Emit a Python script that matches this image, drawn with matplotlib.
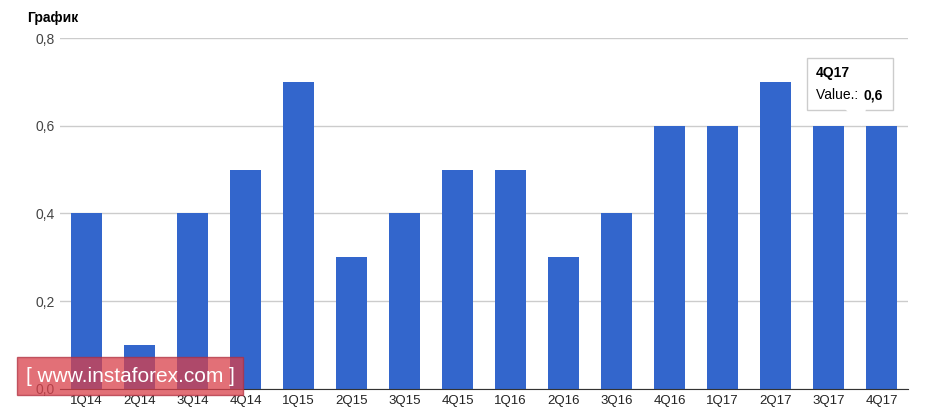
import matplotlib.pyplot as plt
from matplotlib.patches import FancyBboxPatch, Polygon

quarters = ["1Q14", "2Q14", "3Q14", "4Q14", "1Q15", "2Q15", "3Q15", "4Q15",
            "1Q16", "2Q16", "3Q16", "4Q16", "1Q17", "2Q17", "3Q17", "4Q17"]
values = [0.4, 0.1, 0.4, 0.5, 0.7, 0.3, 0.4, 0.5,
          0.5, 0.3, 0.4, 0.6, 0.6, 0.7, 0.6, 0.6]
yticks = [0.0, 0.2, 0.4, 0.6, 0.8]
ytick_labels = ["0,0", "0,2", "0,4", "0,6", "0,8"]

plt.rcParams['font.family'] = ['Liberation Sans', 'DejaVu Sans']
fig = plt.figure(figsize=(9.38, 4.09), dpi=100)
ax = fig.add_axes([0.064, 0.049, 0.904, 0.858])

x = list(range(len(quarters)))
ax.bar(x, values, width=0.6, color='#3366cc', zorder=2)
ax.set_xlim(-0.5, len(quarters) - 0.5)
ax.set_ylim(0, 0.8)
ax.set_yticks(yticks)
ax.set_yticklabels(ytick_labels, color='#444444', fontsize=10)
ax.set_xticks(x)
ax.set_xticklabels(quarters, color='#222222', fontsize=9.5)
ax.tick_params(length=0, pad=4)
ax.grid(axis='y', color='#cccccc', linewidth=1, zorder=0)
for s in ['top', 'right', 'left']:
    ax.spines[s].set_visible(False)
ax.spines['bottom'].set_color('#333333')

fig.text(0.029, 0.955, "График", fontsize=10, fontweight='bold', va='center')

# tooltip
fig.patches.append(FancyBboxPatch((807 / 938, 1 - 110 / 409), 86 / 938, 52 / 409,
                                  boxstyle='square,pad=0', transform=fig.transFigure,
                                  facecolor='white', edgecolor='#cccccc', zorder=5))
fig.patches.append(Polygon([(845 / 938, 1 - 109 / 409), (866 / 938, 1 - 109 / 409),
                            (862 / 938, 1 - 126 / 409)], closed=True,
                           transform=fig.transFigure, facecolor='white',
                           edgecolor='none', zorder=6))
fig.text(816 / 938, 1 - 77 / 409, "4Q17", fontsize=10, fontweight='bold', zorder=7)
fig.text(816 / 938, 1 - 99 / 409, "Value.: ", fontsize=10, zorder=7)
fig.text(863 / 938, 1 - 99 / 409, "0,6", fontsize=10, fontweight='bold', zorder=7)

# watermark
fig.patches.append(FancyBboxPatch((17 / 938, 1 - 395 / 409), 226 / 938, 38 / 409,
                                  boxstyle='square,pad=0', transform=fig.transFigure,
                                  facecolor='#d9404a', alpha=0.75, edgecolor='#b03040',
                                  zorder=8))
fig.text(130 / 938, 1 - 377 / 409, "[ www.instaforex.com ]", color='white',
         fontsize=15, ha='center', va='center', zorder=9)

fig.savefig("out.png", dpi=100)
